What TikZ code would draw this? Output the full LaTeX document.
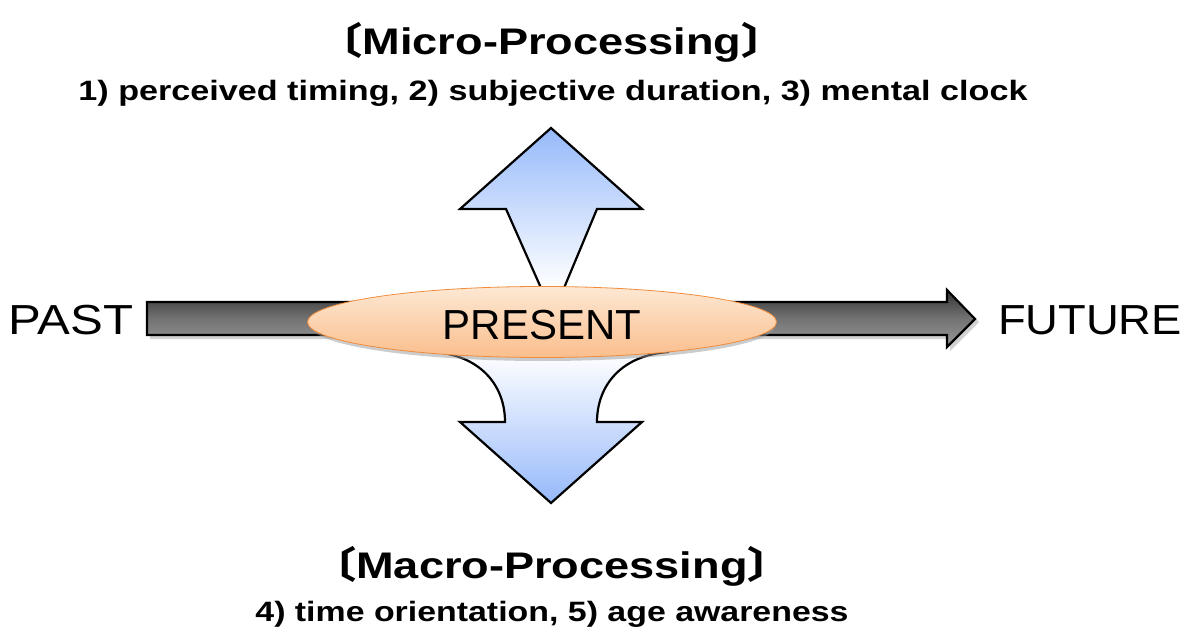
\documentclass[tikz,border=0pt]{standalone}
\usepackage{fontspec}
\usetikzlibrary{shapes.geometric}
\setmainfont{Liberation Sans}
\newfontfamily\cjk{Noto Sans CJK JP}
\begin{document}
\begin{tikzpicture}[x=1pt,y=-1pt,
  lbl/.style={inner sep=0pt,anchor=center},
  blk/.style={draw=black,line width=2.2pt,line join=miter}]
\useasboundingbox (0,0) rectangle (1194,644);
% horizontal arrow
\path[fill=black!35,opacity=0.5] (150,306)--(950,306)--(950,293)--(979,322)--(950,351)--(950,339)--(150,339)--cycle;
\draw[blk,top color=black!80,bottom color=black!40,middle color=black!55] (147,302)--(947,302)--(947,290)--(975,319)--(947,347)--(947,335)--(147,335)--cycle;
% up arrow
\draw[blk,top color={rgb,255:red,150;green,185;blue,250},bottom color=white] (551,128)--(642,209)--(597,209)--(564,288)--(541,288)--(506,209)--(460,209)--cycle;
% down arrow
\draw[blk,top color=white,bottom color={rgb,255:red,150;green,185;blue,250}] (433,352) .. controls (480,355) and (505,385) .. (505,422)--(460,422)--(551,503)--(642,422)--(597,422) .. controls (597,385) and (622,355) .. (669,352)--cycle;
% ellipse
\fill[black!40,opacity=0.5] (543,326) ellipse (232 and 35);
\node[lbl,draw={rgb,255:red,240;green,140;blue,60},line width=0.8pt,ellipse,minimum width=469,minimum height=71,
  top color={rgb,255:red,253;green,232;blue,212},bottom color={rgb,255:red,250;green,190;blue,140}] (pres) at (542,322) {};
\node[lbl,font=\fontsize{42}{42}\selectfont] at (542,325) {PRESENT};
\node[lbl,font=\fontsize{42}{42}\selectfont] (past) at (71,320) {\scalebox{1.17}[1]{PAST}};
\node[lbl,font=\fontsize{42}{42}\selectfont] (fut) at (1090,320) {\scalebox{1.08}[1]{FUTURE}};
\node[lbl,font=\fontsize{37}{37}\selectfont\bfseries] (micro) at (552,42) {\scalebox{1.22}[1]{{\cjk〔}Micro-Processing{\cjk〕}}};
\node[lbl,font=\fontsize{28}{28}\selectfont\bfseries] (microt) at (553,93) {\scalebox{1.22}[1]{1) perceived timing, 2) subjective duration, 3) mental clock}};
\node[lbl,font=\fontsize{37}{37}\selectfont\bfseries] (macro) at (552,566) {\scalebox{1.22}[1]{{\cjk〔}Macro-Processing{\cjk〕}}};
\node[lbl,font=\fontsize{28}{28}\selectfont\bfseries] (macrot) at (552,614) {\scalebox{1.21}[1]{4) time orientation, 5) age awareness}};
\end{tikzpicture}
\end{document}
